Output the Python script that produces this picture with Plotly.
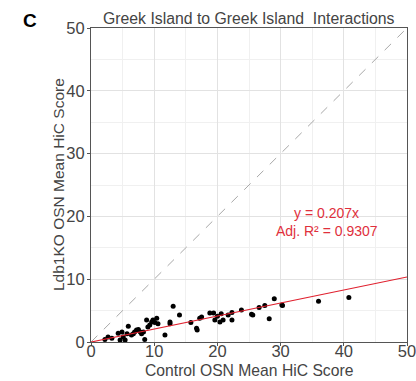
import plotly.graph_objects as go

control = [2.2, 2.7, 3.3, 4.3, 4.6, 4.9, 5.1, 5.4, 5.7, 5.9, 6.4, 6.7, 6.9, 7.2, 7.5, 7.8, 8.0, 8.3, 8.5, 8.8,
           9.0, 9.3, 9.6, 9.8, 10.1, 10.4, 10.6, 11.7, 12.5, 12.5, 13.0, 14.0, 15.8, 16.7, 16.8, 17.2, 17.5,
           18.8, 19.4, 19.6, 20.0, 20.4, 20.6, 20.9, 21.7, 22.3, 22.3, 23.8, 25.4, 25.6, 26.6, 27.5, 28.2,
           29.0, 30.2, 30.3, 36.0, 40.8]
ldb1ko = [0.4, 0.8, 0.6, 1.4, 0.3, 1.6, 0.8, 0.3, 1.3, 2.5, 1.1, 1.3, 1.6, 1.9, 2.0, 1.6, 1.3, 1.6, 0.4, 3.5,
          2.4, 2.7, 3.2, 3.5, 3.1, 3.8, 2.9, 1.1, 3.2, 2.9, 5.7, 4.3, 3.1, 2.2, 1.9, 3.8, 4.0,
          4.6, 4.6, 3.5, 4.1, 3.2, 4.5, 3.5, 4.3, 4.7, 3.5, 5.1, 4.4, 4.3, 5.5, 5.8, 3.7,
          6.9, 5.9, 5.8, 6.5, 7.1]
slope = 0.207
adj_r2 = 0.9307
axis_range = [0, 50]
tick_vals = [0, 10, 20, 30, 40, 50]

fit_x = axis_range
fit_y = [slope * v for v in fit_x]

fig = go.Figure()
fig.add_trace(go.Scatter(x=axis_range, y=axis_range, mode="lines",
                         line=dict(color="#a8a8a8", width=1, dash="dash"), hoverinfo="skip"))
fig.add_trace(go.Scatter(x=control, y=ldb1ko, mode="markers",
                         marker=dict(color="black", size=5)))
fig.add_trace(go.Scatter(x=fit_x, y=fit_y, mode="lines",
                         line=dict(color="#e0202e", width=1.2)))

red = "#e0303c"
gray = "#444444"
fig.add_annotation(x=37.3, y=20.5, text=f"y = {slope}x", showarrow=False,
                   font=dict(color=red, size=14))
fig.add_annotation(x=37.3, y=17.7, text=f"Adj. R² = {adj_r2}", showarrow=False,
                   font=dict(color=red, size=14))
# panel letter
fig.add_annotation(x=0, y=1, xref="paper", yref="paper", xanchor="center", yanchor="middle",
                   xshift=-61, yshift=8, text="<b>C</b>", showarrow=False,
                   font=dict(color="black", size=19))
# title
fig.add_annotation(x=0.5, y=1, xref="paper", yref="paper", xanchor="center", yanchor="middle",
                   yshift=10, text="Greek Island to Greek Island  Interactions", showarrow=False,
                   font=dict(color=gray, size=15.8))
# axis titles
fig.add_annotation(x=0.5, y=0, xref="paper", yref="paper", xanchor="center", yanchor="middle",
                   yshift=-28, text="Control OSN Mean HiC Score", showarrow=False,
                   font=dict(color=gray, size=15.7))
fig.add_annotation(x=0, y=0.5, xref="paper", yref="paper", xanchor="center", yanchor="middle",
                   xshift=-33, textangle=-90, text="Ldb1KO OSN Mean HiC Score", showarrow=False,
                   font=dict(color=gray, size=15.5))

axcommon = dict(range=axis_range, tickvals=tick_vals, showgrid=True, gridcolor="#e2e2e2", gridwidth=1,
                zeroline=False, showline=True, linecolor="#555555", linewidth=1, mirror=True,
                ticks="outside", ticklen=3, tickcolor="#555555", automargin=False,
                tickfont=dict(size=16.5, color=gray), ticklabeloverflow="allow",
                minor=dict(dtick=5, showgrid=True, gridcolor="#f0f0f0", ticks=""))

fig.update_layout(
    width=416, height=381,
    margin=dict(l=91, r=9, t=28, b=39),
    paper_bgcolor="white", plot_bgcolor="white",
    showlegend=False,
    font=dict(family="Liberation Sans, Arial, sans-serif", color=gray),
    xaxis=dict(**axcommon, ticklabelstandoff=-9),
    yaxis=dict(**axcommon, ticklabelstandoff=-1),
)
fig.write_html("out.html", config={"displayModeBar": False},
               post_script="document.body.style.margin='0';document.body.style.overflow='hidden';")
